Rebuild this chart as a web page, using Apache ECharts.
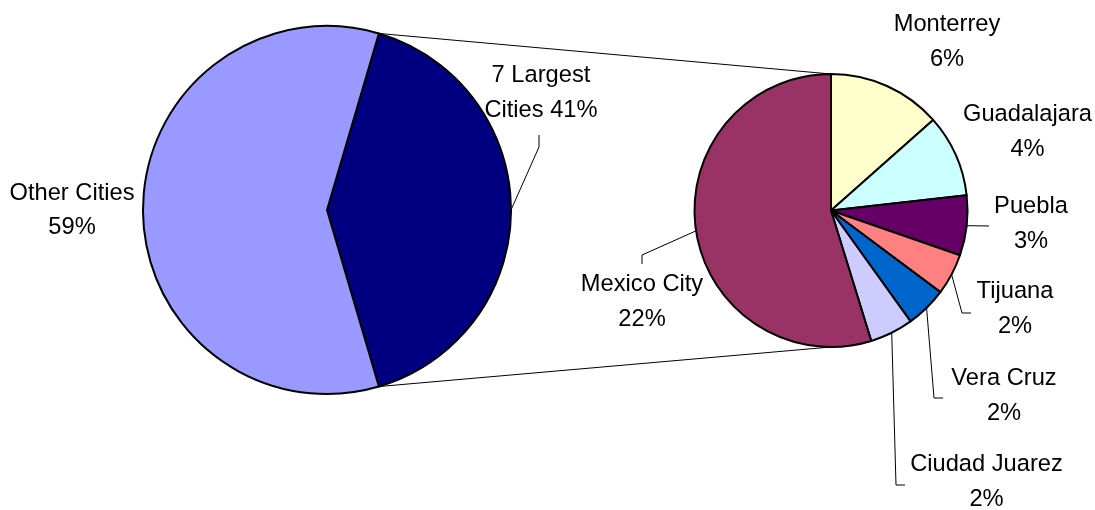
<!DOCTYPE html>
<html><head><meta charset="utf-8">
<script src="https://cdn.jsdelivr.net/npm/echarts@6/dist/echarts.min.js"></script>
<style>html,body{margin:0;padding:0;background:#fff}#c{width:1095px;height:510px}</style>
</head><body><div id="c"></div>
<script>
// ---- data ----
const bigCategories = ['7 Largest Cities', 'Other Cities'];
const cityCategories = ['Monterrey', 'Guadalajara', 'Puebla', 'Tijuana', 'Vera Cruz', 'Ciudad Juarez', 'Mexico City'];
const cityValues = [5.5, 4.0, 2.9, 2.0, 2.0, 2.1, 22.4];
const otherCitiesValue = 59.1;
const largestTotal = cityValues.reduce((a, b) => a + b, 0);
const bigValues = [largestTotal, otherCitiesValue];

// ---- styles ----
const bigColors = ['#000080', '#9999FF'];
const cityColors = ['#FFFFCC', '#CCFFFF', '#660066', '#FF8080', '#0066CC', '#CCCCFF', '#993366'];
const BIG = { cx: 327, cy: 210, r: 184 };
const SMALL = { cx: 831, cy: 210.5, r: 136.5 };
const FONT = '"Liberation Sans", Arial, sans-serif';
const LABEL_POS = {
  'Other Cities': [72, 210.5],
  '7 Largest Cities': [541, 93],
  'Monterrey': [947, 42],
  'Guadalajara': [1027.5, 132],
  'Puebla': [1031, 224],
  'Tijuana': [1015, 309],
  'Vera Cruz': [1004, 396],
  'Ciudad Juarez': [986.5, 482],
  'Mexico City': [642, 302]
};
// leader line bends, as offsets from the label centre
const LEADER = {
  '7 Largest Cities': [[-2, 54], [-2, 42]],
  'Puebla': [[-42, 2], [-42, 2]],
  'Tijuana': [[-53, 4], [-44, 4]],
  'Vera Cruz': [[-70, 2], [-61, 2]],
  'Ciudad Juarez': [[-90.5, 3], [-81.5, 3]],
  'Mexico City': [[0, -47], [0, -38]]
};

function fmt(p) {
  const pct = Math.round(p.value) + '%';
  if (p.name === '7 Largest Cities') return '7 Largest\nCities ' + pct;
  return p.name + '\n' + pct;
}
function makeLayout(names) {
  return function (params) {
    const name = names[params.dataIndex];
    const pos = LABEL_POS[name];
    const res = { x: pos[0], y: pos[1], align: 'center', verticalAlign: 'middle' };
    const lead = LEADER[name];
    if (lead && params.labelLinePoints) {
      const s = params.labelLinePoints[0];
      res.labelLinePoints = [s].concat(lead.map(o => [pos[0] + o[0], pos[1] + o[1]]));
    }
    return res;
  };
}
function items(names, values, colors) {
  return names.map((n, i) => ({
    name: n, value: values[i],
    itemStyle: { color: colors[i] },
    labelLine: { show: !!LEADER[n] }
  }));
}

const half = largestTotal / 100 * Math.PI;
const pTop = [BIG.cx + BIG.r * Math.cos(half), BIG.cy - BIG.r * Math.sin(half)];
const pBot = [BIG.cx + BIG.r * Math.cos(half), BIG.cy + BIG.r * Math.sin(half)];

const labelCommon = {
  show: true, position: 'outside', formatter: fmt,
  fontFamily: FONT, fontSize: 23.7, lineHeight: 34.5, color: '#000'
};
const labelLineCommon = { lineStyle: { color: '#000', width: 1 } };

const chart = echarts.init(document.getElementById('c'), null, { renderer: 'canvas' });
chart.setOption({
  animation: false,
  backgroundColor: '#fff',
  graphic: [
    { type: 'line', z: -10, shape: { x1: pTop[0], y1: pTop[1], x2: SMALL.cx, y2: SMALL.cy - SMALL.r }, style: { stroke: '#000', lineWidth: 1 } },
    { type: 'line', z: -10, shape: { x1: pBot[0], y1: pBot[1], x2: SMALL.cx, y2: SMALL.cy + SMALL.r }, style: { stroke: '#000', lineWidth: 1 } }
  ],
  series: [
    {
      type: 'pie', center: [BIG.cx, BIG.cy], radius: [0, BIG.r],
      startAngle: largestTotal / 100 * 180, clockwise: true,
      avoidLabelOverlap: false, silent: true,
      itemStyle: { borderColor: '#000', borderWidth: 2 },
      label: labelCommon, labelLine: labelLineCommon,
      labelLayout: makeLayout(bigCategories),
      data: items(bigCategories, bigValues, bigColors)
    },
    {
      type: 'pie', center: [SMALL.cx, SMALL.cy], radius: [0, SMALL.r],
      startAngle: 90, clockwise: true,
      avoidLabelOverlap: false, silent: true,
      itemStyle: { borderColor: '#000', borderWidth: 2 },
      label: labelCommon, labelLine: labelLineCommon,
      labelLayout: makeLayout(cityCategories),
      data: items(cityCategories, cityValues, cityColors)
    }
  ]
});
</script></body></html>
